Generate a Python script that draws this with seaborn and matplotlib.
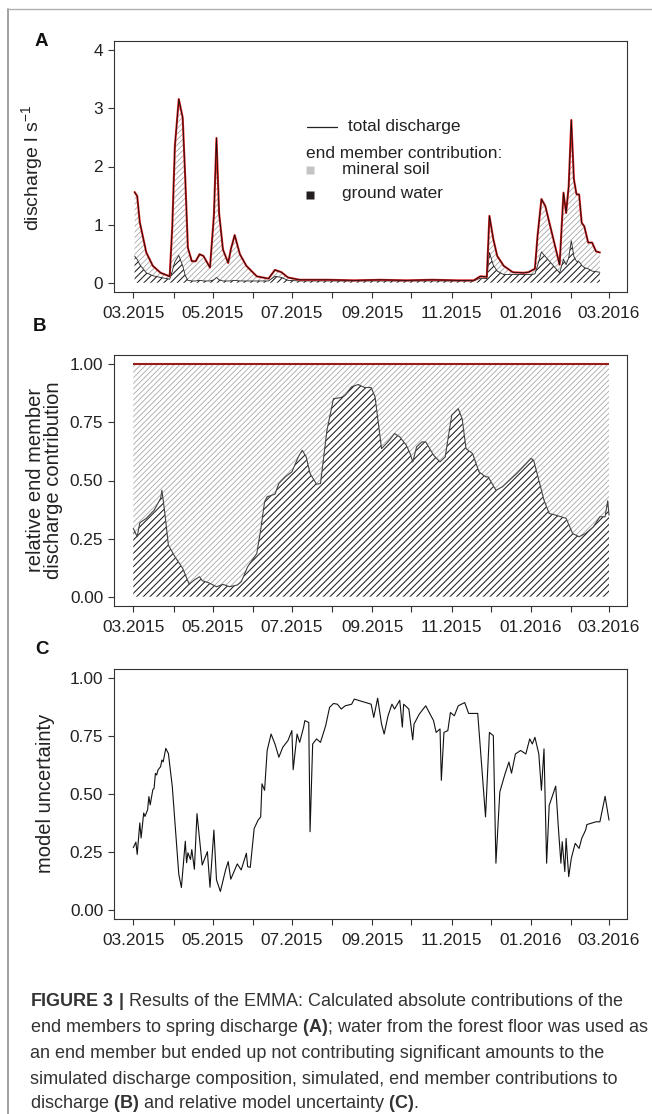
import numpy as np
import pandas as pd
import matplotlib
matplotlib.use("Agg")
import matplotlib.pyplot as plt
import matplotlib.dates as mdates
from matplotlib.lines import Line2D
import seaborn as sns

# ---------------------------------------------------------------- data
START = "2015-03-01"

# Panel A: absolute discharge (l s-1); days after 1 March 2015
day_a = [1, 3, 5, 10, 15, 21, 28, 30, 32, 35,
         38, 40, 42, 45, 48, 51, 54, 59, 62, 64,
         66, 69, 73, 75, 78, 82, 87, 95, 104, 109,
         114, 119, 128, 150, 170, 190, 210, 230, 250, 262,
         267, 272, 274, 277, 280, 285, 292, 300, 304, 309,
         311, 314, 317, 328, 331, 333, 335, 337, 339, 341,
         343, 345, 347, 350, 353, 356, 359]
total_a = [1.56, 1.49, 1.04, 0.52, 0.29, 0.17, 0.11, 0.97, 2.35, 3.16,
           2.84, 1.78, 0.60, 0.37, 0.37, 0.49, 0.46, 0.26, 1.15, 2.49,
           1.20, 0.57, 0.34, 0.57, 0.82, 0.49, 0.29, 0.11, 0.07, 0.22,
           0.18, 0.09, 0.05, 0.05, 0.04, 0.05, 0.04, 0.05, 0.04, 0.04,
           0.11, 0.10, 1.15, 0.75, 0.46, 0.29, 0.18, 0.17, 0.18, 0.24,
           0.80, 1.44, 1.32, 0.31, 1.55, 1.20, 1.66, 2.80, 1.78, 1.52,
           1.52, 1.03, 0.97, 0.69, 0.69, 0.54, 0.52]
groundwater_a = [0.46, 0.40, 0.31, 0.17, 0.12, 0.09, 0.06, 0.20, 0.36, 0.47,
                 0.29, 0.12, 0.04, 0.03, 0.03, 0.04, 0.03, 0.03, 0.05, 0.09,
                 0.05, 0.03, 0.03, 0.03, 0.04, 0.03, 0.03, 0.03, 0.03, 0.11,
                 0.09, 0.04, 0.03, 0.03, 0.03, 0.03, 0.03, 0.03, 0.03, 0.03,
                 0.08, 0.07, 0.52, 0.30, 0.20, 0.14, 0.14, 0.14, 0.14, 0.15,
                 0.29, 0.53, 0.45, 0.17, 0.40, 0.31, 0.43, 0.72, 0.45, 0.37,
                 0.36, 0.30, 0.26, 0.24, 0.20, 0.19, 0.18]

# Panel B: relative ground-water contribution
day_b = [0, 3, 5, 10, 16, 21, 22, 24, 27, 32,
         38, 43, 47, 51, 53, 58, 64, 69, 74, 80,
         83, 88, 95, 98, 101, 103, 109, 112, 117, 122,
         127, 130, 133, 136, 141, 144, 149, 154, 160, 163,
         168, 173, 178, 183, 186, 191, 197, 201, 205, 210,
         213, 215, 218, 222, 225, 231, 236, 240, 245, 250,
         253, 256, 261, 266, 271, 273, 279, 284, 288, 295,
         300, 306, 308, 311, 316, 320, 325, 333, 338, 343,
         348, 354, 359, 363, 365, 366]
groundwater_rel_b = [0.294, 0.258, 0.318, 0.337, 0.372, 0.423, 0.458, 0.372, 0.222, 0.172,
                     0.122, 0.054, 0.072, 0.086, 0.069, 0.060, 0.043, 0.053, 0.043, 0.050,
                     0.064, 0.129, 0.186, 0.287, 0.408, 0.430, 0.441, 0.487, 0.516, 0.537,
                     0.602, 0.630, 0.602, 0.530, 0.484, 0.487, 0.716, 0.852, 0.857, 0.867,
                     0.903, 0.913, 0.900, 0.900, 0.860, 0.637, 0.673, 0.702, 0.688, 0.652,
                     0.616, 0.580, 0.645, 0.666, 0.666, 0.609, 0.580, 0.602, 0.781, 0.809,
                     0.766, 0.637, 0.616, 0.537, 0.516, 0.516, 0.458, 0.473, 0.494, 0.530,
                     0.559, 0.595, 0.587, 0.523, 0.415, 0.358, 0.351, 0.337, 0.272, 0.258,
                     0.272, 0.301, 0.344, 0.344, 0.413, 0.351]
total_rel_b = 1.0

# Panel C: model uncertainty
day_c = [0, 2, 3, 5, 6, 8, 9, 11, 12, 13,
         15, 16, 17, 18, 19, 21, 22, 23, 25, 27,
         30, 35, 37, 40, 41, 42, 44, 45, 46, 47,
         49, 53, 57, 59, 62, 64, 67, 71, 73, 75,
         80, 83, 87, 88, 90, 93, 96, 98, 99, 101,
         103, 106, 109, 112, 115, 119, 122, 123, 126, 128,
         131, 132, 135, 136, 138, 141, 144, 146, 148, 151,
         154, 157, 160, 163, 168, 170, 176, 183, 185, 188,
         191, 193, 196, 199, 201, 205, 207, 208, 212, 215,
         216, 220, 225, 231, 233, 236, 237, 239, 242, 244,
         247, 250, 255, 258, 265, 271, 274, 277, 279, 282,
         286, 289, 291, 294, 298, 302, 305, 307, 309, 312,
         314, 316, 318, 320, 325, 327, 329, 330, 332, 333,
         335, 337, 340, 343, 345, 348, 349, 353, 356, 359,
         363, 366]
uncertainty_c = [0.268, 0.292, 0.239, 0.375, 0.310, 0.418, 0.403, 0.432, 0.489, 0.453,
                 0.518, 0.525, 0.589, 0.582, 0.604, 0.618, 0.647, 0.639, 0.697, 0.675,
                 0.532, 0.153, 0.096, 0.296, 0.203, 0.246, 0.217, 0.260, 0.217, 0.175,
                 0.415, 0.193, 0.251, 0.097, 0.344, 0.129, 0.079, 0.172, 0.208, 0.132,
                 0.198, 0.172, 0.244, 0.186, 0.183, 0.351, 0.387, 0.401, 0.544, 0.516,
                 0.688, 0.759, 0.716, 0.659, 0.702, 0.731, 0.774, 0.605, 0.759, 0.723,
                 0.788, 0.817, 0.809, 0.337, 0.716, 0.738, 0.723, 0.759, 0.795, 0.874,
                 0.891, 0.888, 0.867, 0.881, 0.888, 0.910, 0.900, 0.888, 0.831, 0.914,
                 0.802, 0.759, 0.838, 0.888, 0.867, 0.905, 0.789, 0.888, 0.867, 0.734,
                 0.802, 0.845, 0.881, 0.817, 0.766, 0.781, 0.559, 0.766, 0.774, 0.852,
                 0.838, 0.881, 0.895, 0.848, 0.848, 0.401, 0.766, 0.752, 0.201, 0.509,
                 0.587, 0.638, 0.590, 0.673, 0.688, 0.673, 0.738, 0.716, 0.745, 0.673,
                 0.516, 0.695, 0.201, 0.451, 0.534, 0.358, 0.201, 0.294, 0.165, 0.308,
                 0.143, 0.222, 0.287, 0.265, 0.308, 0.344, 0.368, 0.375, 0.380, 0.380,
                 0.490, 0.387]

yticks_a = [0, 1, 2, 3, 4]
yticks_bc = [0.0, 0.25, 0.5, 0.75, 1.0]
ytick_labels_bc = ["0.00", "0.25", "0.50", "0.75", "1.00"]
month_ticks = pd.date_range("2015-03-01", "2016-03-01", freq="MS")
xtick_labels = [d.strftime("%m.%Y") if i % 2 == 0 else "" for i, d in enumerate(month_ticks)]

legend_labels = ["total discharge", "end member contribution:", "mineral soil", "ground water"]
panel_letters = ["A", "B", "C"]
ylabels = ["discharge l s$^{-1}$",
           "relative end member\ndischarge contribution",
           "model uncertainty"]
caption_lines = [
    r"$\mathbf{FIGURE\ 3\ |}$ Results of the EMMA: Calculated absolute contributions of the",
    r"end members to spring discharge $\mathbf{(A)}$; water from the forest floor was used as",
    r"an end member but ended up not contributing significant amounts to the",
    r"simulated discharge composition, simulated, end member contributions to",
    r"discharge $\mathbf{(B)}$ and relative model uncertainty $\mathbf{(C)}$.",
]

# ---------------------------------------------------------------- style
sns.set_theme(style="ticks")
plt.rcParams["font.family"] = ["Liberation Sans", "DejaVu Sans"]
plt.rcParams.update({
    "mathtext.fontset": "custom",
    "mathtext.rm": "Liberation Sans",
    "mathtext.bf": "Liberation Sans:bold",
    "mathtext.it": "Liberation Sans:italic",
    "mathtext.default": "regular",
    "axes.unicode_minus": True,
    "hatch.linewidth": 0.7,
})

W, H = 652, 1114
fig = plt.figure(figsize=(W / 100, H / 100), dpi=100)
fig.patch.set_facecolor("white")


def rect(top, bottom, left=114, right=627):
    return [left / W, 1 - bottom / H, (right - left) / W, (bottom - top) / H]


axA = fig.add_axes(rect(41, 292))
axB = fig.add_axes(rect(355, 606))
axC = fig.add_axes(rect(669, 919))

t0 = pd.Timestamp(START)
dfA = pd.DataFrame({"date": t0 + pd.to_timedelta(day_a, unit="D"),
                    "total": total_a, "groundwater": groundwater_a})
dfB = pd.DataFrame({"date": t0 + pd.to_timedelta(day_b, unit="D"),
                    "groundwater": groundwater_rel_b})
dfC = pd.DataFrame({"date": t0 + pd.to_timedelta(day_c, unit="D"),
                    "uncertainty": uncertainty_c})

LIGHT = "#a8a8a8"
DARK = "#1c1c1c"


def hatch_fill(ax, x, y1, y2, color, hatch, lw):
    with plt.rc_context({"hatch.linewidth": lw}):
        coll = ax.fill_between(x, y1, y2, facecolor="none", edgecolor=color,
                               hatch=hatch, linewidth=0)
    if hasattr(coll, "set_hatch_linewidth"):
        coll.set_hatch_linewidth(lw)
    return coll


# ---- Panel A
hatch_fill(axA, dfA["date"], dfA["groundwater"], dfA["total"], LIGHT, "//////", 0.6)
hatch_fill(axA, dfA["date"], 0, dfA["groundwater"], DARK, "/////", 0.75)
sns.lineplot(data=dfA, x="date", y="groundwater", ax=axA, color="#222222",
             lw=0.6, estimator=None, sort=False)
sns.lineplot(data=dfA, x="date", y="total", ax=axA, color="#e01b1b",
             lw=1.5, estimator=None, sort=False)
sns.lineplot(data=dfA, x="date", y="total", ax=axA, color="#111111",
             lw=0.6, estimator=None, sort=False)

# ---- Panel B
hatch_fill(axB, dfB["date"], dfB["groundwater"], total_rel_b, LIGHT, "//////", 0.6)
hatch_fill(axB, dfB["date"], 0, dfB["groundwater"], DARK, "/////", 0.75)
sns.lineplot(data=dfB, x="date", y="groundwater", ax=axB, color="#444444",
             lw=0.8, estimator=None, sort=False)
axB.hlines(total_rel_b, dfB["date"].iloc[0], dfB["date"].iloc[-1],
           color="#9a1c1c", lw=1.5)

# ---- Panel C
sns.lineplot(data=dfC, x="date", y="uncertainty", ax=axC, color="#111111",
             lw=0.8, estimator=None, sort=False)

# ---- axes formatting
xmin = t0 - pd.Timedelta(days=14.85)
xmax = pd.Timestamp("2016-03-01") + pd.Timedelta(days=13.85)
for ax in (axA, axB, axC):
    ax.set_xlim(xmin, xmax)
    ax.set_xticks(mdates.date2num(month_ticks))
    ax.set_xticklabels(xtick_labels)
    ax.set_xlabel("")
    ax.set_ylabel("")
    ax.tick_params(axis="both", direction="out", length=4.3, width=0.8,
                   color="#333333", labelcolor="#222222", labelsize=12.4)
    ax.tick_params(axis="x", pad=6)
    ax.tick_params(axis="y", pad=3.5)
    for s in ax.spines.values():
        s.set_visible(True)
        s.set_color("#333333")
        s.set_linewidth(0.8)
    ax.set_facecolor("white")
    ax.grid(False)

axA.set_ylim(-0.16, 4.16)
axA.set_yticks(yticks_a)
axA.set_yticklabels([str(v) for v in yticks_a])
for ax in (axB, axC):
    ax.set_ylim(-0.04, 1.04)
    ax.set_yticks(yticks_bc)
    ax.set_yticklabels(ytick_labels_bc)

# ---- legend in panel A (manual, R style)
def ax_xy(px, py):
    return (px - 114) / (627 - 114), (292 - py) / (292 - 41)

lx0, ly = ax_xy(307, 126.5)
lx1, _ = ax_xy(337, 126.5)
axA.add_line(Line2D([lx0, lx1], [ly, ly], transform=axA.transAxes, color="#222222", lw=0.9))
tx, ty = ax_xy(348, 126.5)
axA.text(tx, ty, legend_labels[0], transform=axA.transAxes, ha="left", va="center",
         fontsize=12.4, color="#222222")
tx, ty = ax_xy(306.5, 153.5)
axA.text(tx, ty, legend_labels[1], transform=axA.transAxes, ha="left", va="center",
         fontsize=12.4, color="#222222")
sx, sy = ax_xy(310, 170.3)
axA.plot([sx], [sy], marker="s", ms=5.2, color="#c4c4c4", mec="none", transform=axA.transAxes)
tx, ty = ax_xy(342.5, 170)
axA.text(tx, ty, legend_labels[2], transform=axA.transAxes, ha="left", va="center",
         fontsize=12.4, color="#222222")
sx, sy = ax_xy(310, 194.5)
axA.plot([sx], [sy], marker="s", ms=5.2, color="#231f20", mec="none", transform=axA.transAxes)
tx, ty = ax_xy(342.5, 193.5)
axA.text(tx, ty, legend_labels[3], transform=axA.transAxes, ha="left", va="center",
         fontsize=12.4, color="#222222")

# ---- y labels
fig.text(32 / W, 1 - 168 / H, ylabels[0], rotation=90, ha="center", va="center",
         fontsize=14, color="#222222")
fig.text(44.5 / W, 1 - 480 / H, ylabels[1], rotation=90, ha="center", va="center",
         fontsize=14.5, color="#222222", linespacing=0.95, multialignment="center")
fig.text(45.5 / W, 1 - 793 / H, ylabels[2], rotation=90, ha="center", va="center",
         fontsize=14.5, color="#222222")

# ---- panel letters
for letter, (px, py) in zip(panel_letters, [(41, 41.7), (40, 326.5), (42, 650)]):
    fig.text(px / W, 1 - py / H, letter, ha="center", va="center",
             fontsize=13.5, fontweight="bold", color="#111111")

# ---- frame
fig.add_artist(Line2D([7.5 / W, 7.5 / W], [0, 1 - 9 / H], transform=fig.transFigure,
                      color="#9a9a9a", lw=1.3))
fig.add_artist(Line2D([7.5 / W, 1.0], [1 - 9 / H, 1 - 9 / H], transform=fig.transFigure,
                      color="#b0b0b0", lw=1.0))

# ---- caption
cap_y = [1002, 1028, 1054, 1079, 1104]
cap_texts = [fig.text(30 / W, 1 - y / H, s, ha="left", va="center", fontsize=12,
                      color="#333333")
             for s, y in zip(caption_lines, cap_y)]
renderer = fig.canvas.get_renderer()
widest = max(t.get_window_extent(renderer).width for t in cap_texts)
scale = 616.0 / widest
for t in cap_texts:
    t.set_fontsize(12 * scale)

fig.savefig("out.png", dpi=100, facecolor="white")
